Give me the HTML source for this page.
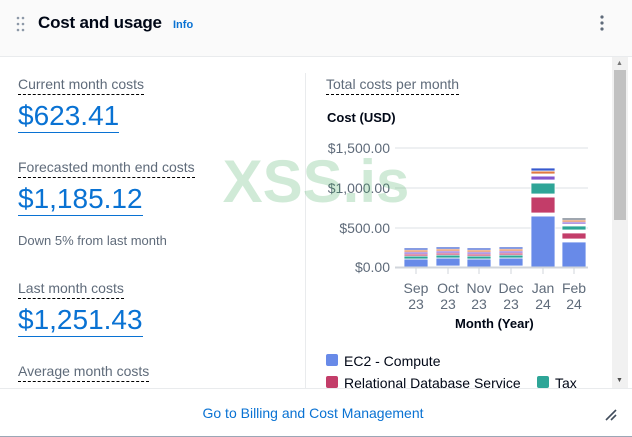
<!DOCTYPE html>
<html><head><style>
*{margin:0;padding:0;box-sizing:border-box}
body{width:632px;height:437px;overflow:hidden;background:#fff;font-family:"Liberation Sans",sans-serif;position:relative}
.a{position:absolute;white-space:nowrap}
.lbl{font-size:14px;color:#5f6b7a;border-bottom:1px dashed #000;padding-bottom:2px}
.amt{font-size:28px;color:#0972d3;border-bottom:1px solid #0972d3;line-height:32px}
.yt{font-size:14px;color:#5f6b7a;text-align:right;width:70px}
.xt{font-size:14px;color:#5f6b7a;text-align:center;width:30px;line-height:16px}
</style></head><body>
<div class="a" style="left:0;top:0;width:632px;height:57px;background:#fafafa;border-bottom:1px solid #e9ebed"></div>
<svg class="a" style="left:16px;top:16px" width="10" height="16"><g fill="#8d99a8"><circle cx="2" cy="2" r="1.3"/><circle cx="7" cy="2" r="1.3"/><circle cx="2" cy="8" r="1.3"/><circle cx="7" cy="8" r="1.3"/><circle cx="2" cy="14" r="1.3"/><circle cx="7" cy="14" r="1.3"/></g></svg>
<div class="a" style="left:38px;top:13px;font-size:17px;font-weight:bold;color:#000716;letter-spacing:-0.2px">Cost and usage</div>
<div class="a" style="left:173px;top:19px;font-size:11px;font-weight:bold;color:#0972d3">Info</div>
<svg class="a" style="left:598px;top:14px" width="8" height="18"><g fill="#5f6b7a"><circle cx="4" cy="3" r="1.6"/><circle cx="4" cy="9" r="1.6"/><circle cx="4" cy="15" r="1.6"/></g></svg>

<div class="a lbl" style="left:18px;top:76px">Current month costs</div>
<div class="a amt" style="left:18px;top:100px">$623.41</div>
<div class="a lbl" style="left:18px;top:159px">Forecasted month end costs</div>
<div class="a amt" style="left:18px;top:183px">$1,185.12</div>
<div class="a" style="left:18px;top:233px;font-size:13px;color:#5f6b7a">Down 5% from last month</div>
<div class="a lbl" style="left:18px;top:280px">Last month costs</div>
<div class="a amt" style="left:18px;top:304px">$1,251.43</div>
<div class="a lbl" style="left:18px;top:363px">Average month costs</div>

<div class="a" style="left:305px;top:73px;width:1px;height:316px;background:#e9ebed"></div>
<div class="a lbl" style="left:326px;top:76px">Total costs per month</div>
<div class="a" style="left:327px;top:110px;font-size:13px;font-weight:bold;color:#000716">Cost (USD)</div>

<div class="a yt" style="left:320px;top:140px">$1,500.00</div>
<div class="a yt" style="left:320px;top:180px">$1,000.00</div>
<div class="a yt" style="left:320px;top:220px">$500.00</div>
<div class="a yt" style="left:320px;top:259px">$0.00</div>

<svg class="a" style="left:0;top:0" width="632" height="437">
<g stroke="#e9ebed" stroke-width="1.5">
<line x1="395" x2="588" y1="148" y2="148"/><line x1="395" x2="588" y1="188" y2="188"/><line x1="395" x2="588" y1="228" y2="228"/>
</g>
<g stroke="#fff" stroke-width="0.8">
<g id="s">
<rect x="404" y="259" width="24" height="8" fill="#688ae8"/>
<rect x="404" y="256" width="24" height="3" fill="#2ea597"/>
<rect x="404" y="254" width="24" height="2" fill="#c33d69"/>
<rect x="404" y="252" width="24" height="2" fill="#8456ce"/>
<rect x="404" y="250" width="24" height="2" fill="#e07941"/>
<rect x="404" y="248" width="24" height="2" fill="#3759ce"/>
</g>
<use href="#s" x="32" y="-1"/>
<use href="#s" x="63"/>
<use href="#s" x="95" y="-1"/>
<rect x="531" y="216" width="24" height="51" fill="#688ae8"/>
<rect x="531" y="213" width="24" height="3" fill="#fff"/>
<rect x="531" y="197" width="24" height="16" fill="#c33d69"/>
<rect x="531" y="194" width="24" height="3" fill="#fff"/>
<rect x="531" y="183" width="24" height="11" fill="#2ea597"/>
<rect x="531" y="180" width="24" height="3" fill="#fff"/>
<rect x="531" y="176" width="24" height="4" fill="#8456ce"/>
<rect x="531" y="174" width="24" height="2" fill="#fff"/>
<rect x="531" y="171" width="24" height="3" fill="#e07941"/>
<rect x="531" y="168" width="24" height="3" fill="#3759ce"/>
<rect x="562" y="242" width="24" height="25" fill="#688ae8"/>
<rect x="562" y="233" width="24" height="6" fill="#c33d69"/>
<rect x="562" y="226" width="24" height="4" fill="#2ea597"/>
<rect x="562" y="222" width="24" height="2" fill="#8456ce"/>
<rect x="562" y="220" width="24" height="2" fill="#e07941"/>
<rect x="562" y="218" width="24" height="2" fill="#5f6b7a"/>
</g>
<line x1="395" x2="588" y1="267.5" y2="267.5" stroke="#d1d5db" stroke-width="2"/>
<g stroke="#d1d5db"><line x1="416" x2="416" y1="268" y2="274"/><line x1="448" x2="448" y1="268" y2="274"/><line x1="479" x2="479" y1="268" y2="274"/><line x1="511" x2="511" y1="268" y2="274"/><line x1="543" x2="543" y1="268" y2="274"/><line x1="574" x2="574" y1="268" y2="274"/></g>
<text x="316" y="202" font-family="Liberation Sans" font-weight="bold" font-size="60" fill="#2ea54f" opacity="0.22" text-anchor="middle">XSS.is</text>
</svg>
<div class="a xt" style="left:401px;top:280px">Sep<br>23</div>
<div class="a xt" style="left:433px;top:280px">Oct<br>23</div>
<div class="a xt" style="left:464px;top:280px">Nov<br>23</div>
<div class="a xt" style="left:496px;top:280px">Dec<br>23</div>
<div class="a xt" style="left:528px;top:280px">Jan<br>24</div>
<div class="a xt" style="left:559px;top:280px">Feb<br>24</div>
<div class="a" style="left:455px;top:316px;font-size:13px;font-weight:bold;color:#000716">Month (Year)</div>

<div class="a" style="left:326px;top:354px;width:12px;height:12px;background:#688ae8;border-radius:2px"></div>
<div class="a" style="left:344px;top:353px;font-size:14px;color:#000716">EC2 - Compute</div>
<div class="a" style="left:326px;top:376px;width:12px;height:12px;background:#c33d69;border-radius:2px"></div>
<div class="a" style="left:344px;top:375px;font-size:14px;color:#000716">Relational Database Service</div>
<div class="a" style="left:537px;top:376px;width:12px;height:12px;background:#2ea597;border-radius:2px"></div>
<div class="a" style="left:555px;top:375px;font-size:14px;color:#000716">Tax</div>

<div class="a" style="left:612px;top:57px;width:16px;height:332px;background:#f1f1f1"></div>
<div class="a" style="left:614px;top:70px;width:12px;height:150px;background:#c1c1c1"></div>
<div class="a" style="left:616px;top:60px;font-size:7px;color:#777">▲</div>
<div class="a" style="left:616px;top:377px;font-size:7px;color:#505050">▼</div>

<div class="a" style="left:0;top:388px;width:632px;height:49px;background:#fff;border-top:1px solid #e9ebed;border-bottom:1px solid #9ba7b6"></div>
<div class="a" style="left:0;top:405px;width:626px;text-align:center;font-size:14px;color:#0972d3">Go to Billing and Cost Management</div>
<svg class="a" style="left:604px;top:408px" width="14" height="14"><g stroke="#414d5c" stroke-width="1.6"><line x1="2" y1="12" x2="12" y2="2"/><line x1="7" y1="12" x2="12" y2="7"/></g></svg>
</body></html>
